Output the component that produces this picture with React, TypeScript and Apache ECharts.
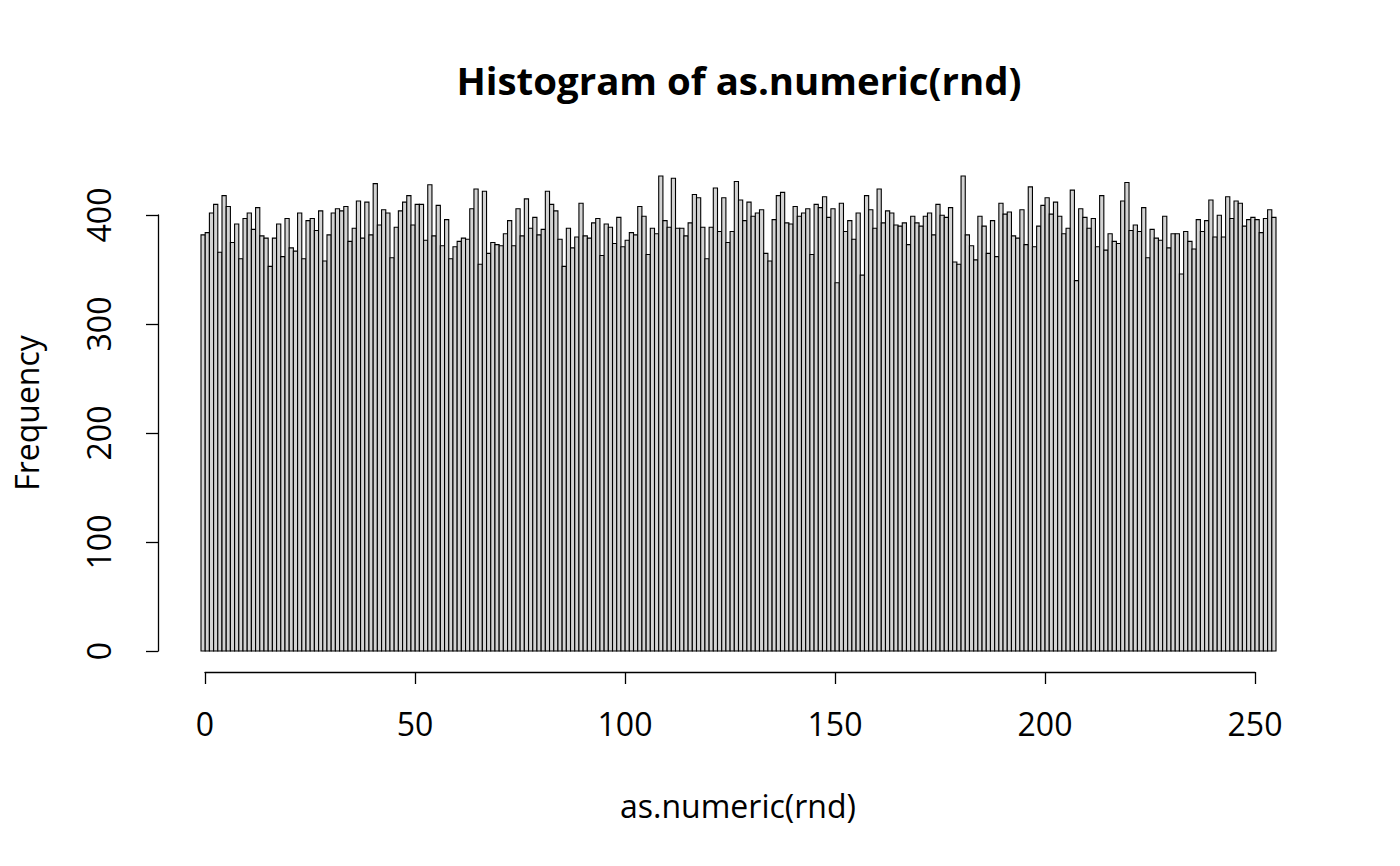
import React, { useEffect, useRef } from "react";
import * as echarts from "echarts";

// Histogram counts for values 0..255 (bin k covers (k-1, k])
const counts: number[] = [
  382, 384, 402, 410, 366, 418, 408, 375, 392, 360, 397, 402, 387, 407, 381, 379,
  353, 379, 392, 362, 397, 370, 367, 402, 360, 395, 397, 386, 404, 358, 382, 402,
  406, 404, 408, 376, 388, 413, 379, 412, 382, 429, 391, 405, 402, 361, 389, 404,
  412, 418, 391, 410, 410, 377, 428, 381, 409, 372, 396, 360, 371, 376, 379, 378,
  406, 424, 355, 422, 365, 375, 373, 372, 383, 395, 372, 406, 381, 415, 388, 398,
  382, 387, 422, 410, 404, 378, 353, 388, 370, 380, 411, 381, 379, 393, 397, 363,
  392, 389, 374, 398, 371, 377, 384, 382, 408, 399, 364, 388, 383, 436, 395, 389,
  434, 388, 388, 381, 393, 419, 416, 389, 360, 389, 425, 385, 416, 375, 385, 431,
  414, 395, 412, 399, 402, 405, 365, 358, 396, 418, 421, 393, 392, 408, 399, 402,
  406, 364, 410, 407, 417, 398, 406, 338, 411, 385, 395, 378, 402, 345, 418, 405,
  388, 424, 393, 404, 402, 391, 390, 393, 373, 399, 393, 390, 399, 402, 382, 410,
  400, 398, 407, 357, 355, 436, 382, 372, 359, 399, 390, 365, 395, 362, 411, 401,
  403, 381, 379, 405, 373, 426, 371, 390, 409, 416, 401, 412, 399, 383, 388, 423,
  340, 406, 398, 388, 397, 371, 418, 368, 383, 376, 374, 413, 430, 386, 391, 385,
  407, 361, 387, 379, 377, 399, 370, 383, 383, 346, 385, 376, 369, 396, 385, 395,
  414, 380, 400, 380, 417, 397, 413, 411, 390, 396, 398, 396, 384, 397, 405, 398,
];

const binWidth = 1;
const xTicks = { min: 0, max: 250, interval: 50 };
const yTicks = { min: 0, max: 400, interval: 100 };

const titleText = "Histogram of as.numeric(rnd)";
const xLabel = "as.numeric(rnd)";
const yLabel = "Frequency";

const FONT = "Open Sans";

export default function App() {
  const ref = useRef<HTMLDivElement>(null);

  useEffect(() => {
    if (!ref.current) return;
    const chart = echarts.init(ref.current, null, { renderer: "svg" });

    const data = counts.map((c, k) => [k, c]);

    const option: any = {
      animation: false,
      backgroundColor: "#ffffff",
      textStyle: { fontFamily: FONT, color: "#000" },
      grid: [
        { left: 158, right: 81, top: 157, bottom: 196 },
        { left: 205, right: 145, top: 600, bottom: 194 },
        { left: 158, width: 100, top: 215, bottom: 215 },
      ],
      xAxis: [
        { type: "value", gridIndex: 0, min: -11.24, max: 265.24, show: false },
        {
          type: "value",
          gridIndex: 1,
          min: xTicks.min,
          max: xTicks.max,
          interval: xTicks.interval,
          position: "bottom",
          axisLine: { show: true, lineStyle: { color: "#000", width: 1.3 } },
          axisTick: { show: true, length: 12, lineStyle: { color: "#000", width: 1.3 } },
          axisLabel: { show: true, fontSize: 32, color: "#000", fontFamily: FONT, margin: 35 },
          splitLine: { show: false },
        },
        { type: "value", gridIndex: 2, show: false },
      ],
      yAxis: [
        { type: "value", gridIndex: 0, min: -17.44, max: 453.44, show: false },
        { type: "value", gridIndex: 1, show: false },
        {
          type: "value",
          gridIndex: 2,
          min: yTicks.min,
          max: yTicks.max,
          interval: yTicks.interval,
          position: "left",
          axisLine: { show: true, lineStyle: { color: "#000", width: 1.3 } },
          axisTick: { show: true, length: 12, lineStyle: { color: "#000", width: 1.3 } },
          axisLabel: { show: true, fontSize: 32, color: "#000", fontFamily: FONT, rotate: 90, margin: 44 },
          splitLine: { show: false },
        },
      ],
      series: [
        {
          type: "custom",
          xAxisIndex: 0,
          yAxisIndex: 0,
          data,
          renderItem: (params: any, api: any) => {
            const k = api.value(0);
            const v = api.value(1);
            const p0 = api.coord([k - binWidth, v]);
            const p1 = api.coord([k, 0]);
            return {
              type: "rect",
              shape: { x: p0[0], y: p0[1], width: p1[0] - p0[0], height: p1[1] - p0[1] },
              style: { fill: "#d3d3d3", stroke: "#000", lineWidth: 1.1 },
            };
          },
        },
      ],
      graphic: [
        {
          type: "text",
          x: 739,
          y: 80,
          style: {
            text: titleText,
            fontFamily: FONT,
            fontSize: 38.4,
            fontWeight: "bold",
            fill: "#000",
            textAlign: "center",
            textVerticalAlign: "middle",
          },
        },
        {
          type: "text",
          x: 738,
          y: 805,
          style: {
            text: xLabel,
            fontFamily: FONT,
            fontSize: 32,
            fill: "#000",
            textAlign: "center",
            textVerticalAlign: "middle",
          },
        },
        {
          type: "text",
          x: 26,
          y: 413,
          rotation: Math.PI / 2,
          style: {
            text: yLabel,
            fontFamily: FONT,
            fontSize: 32,
            fill: "#000",
            textAlign: "center",
            textVerticalAlign: "middle",
          },
        },
      ],
    };

    chart.setOption(option);
    return () => chart.dispose();
  }, []);

  return (
    <div
      ref={ref}
      style={{ position: "fixed", left: 0, top: 0, width: 1400, height: 866, background: "#fff" }}
    />
  );
}
